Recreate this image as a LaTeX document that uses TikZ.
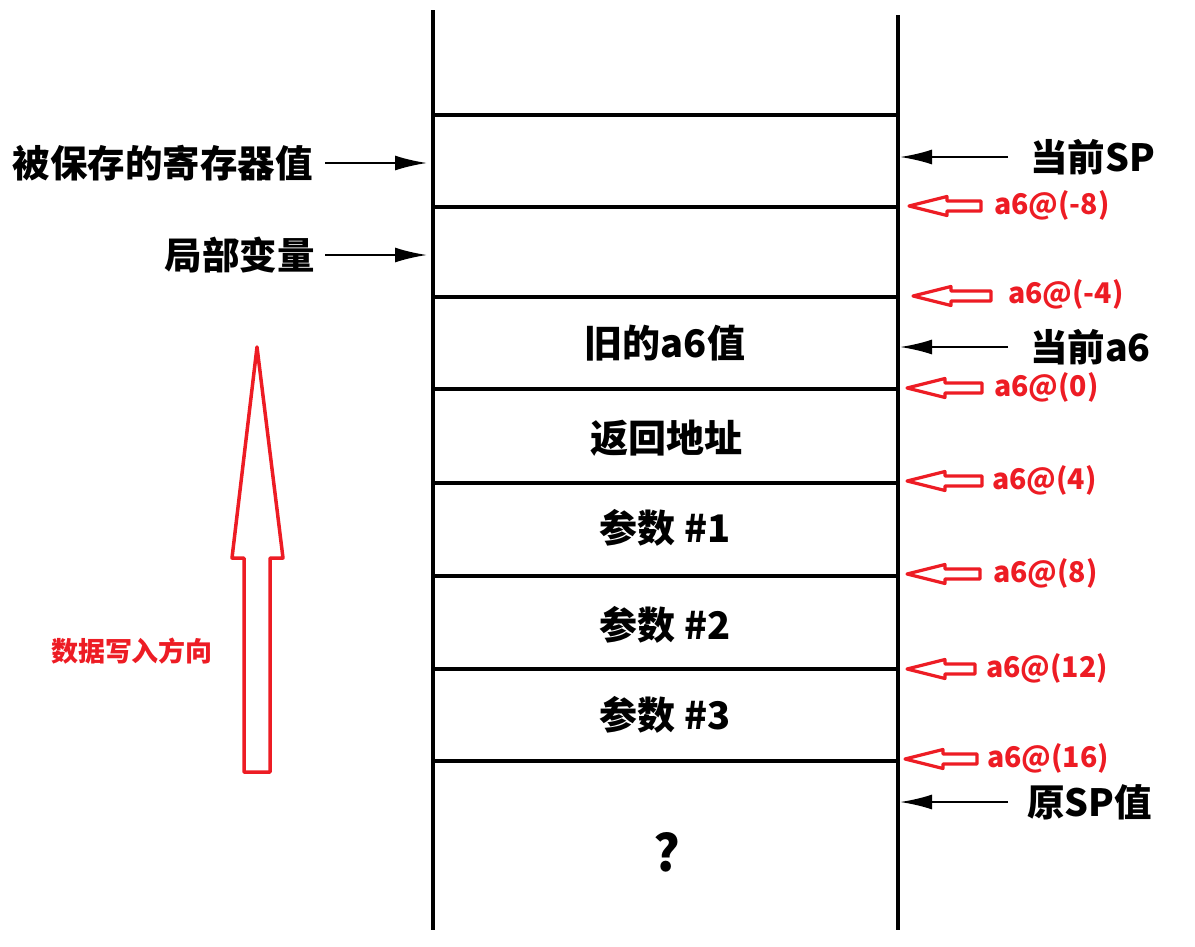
\documentclass[tikz,border=0pt]{standalone}
\usepackage{fontspec}
\setmainfont{Noto Sans CJK SC}
\usepackage{xcolor}
\definecolor{markred}{RGB}{237,28,36}
\usepackage{tikz}
\usetikzlibrary{arrows.meta,positioning}
\tikzset{
  wall/.style={line width=4pt,draw=black},
  slot/.style={line width=3.5pt,draw=black},
  cell_txt/.style={font=\fontsize{38}{42}\selectfont\bfseries,inner sep=0pt},
  side_lbl/.style={font=\fontsize{37.5}{42}\selectfont\bfseries,inner sep=0pt},
  off_lbl/.style={font=\fontsize{28.5}{32}\selectfont\bfseries,text=markred,anchor=west,inner sep=0pt},
  ptr/.style={-{Latex[length=32pt,width=15pt]},line width=2.2pt},
  hollow_ln/.style={draw=markred,line width=3.2pt,line join=round},
  pics/hollow/.style={code={
    \draw[hollow_ln] (0,0) -- (38,-9.5) -- (38,-5) -- (#1,-5) -- (#1,5)
      -- (38,5) -- (38,9.5) -- cycle;}},
}
\begin{document}
\begin{tikzpicture}[x=1pt,y=-1pt]
  \useasboundingbox (0,0) rectangle (1195,946);
  % stack frame
  \draw[wall] (433,10) -- (433,930);
  \draw[wall] (898,15) -- (898,930);
  \foreach \yy in {115,207,297,389,483,576,669,761}
    \draw[slot] (433,\yy) -- (898,\yy);
  % cell contents
  \node (old) [cell_txt] at (665,343) {旧的a6值};
  \node (ret) [cell_txt] at (666,438) {返回地址};
  \node (arg1)[cell_txt] at (665,528) {参数 \#1};
  \node (arg2)[cell_txt] at (665,625) {参数 \#2};
  \node (arg3)[cell_txt] at (665,715) {参数 \#3};
  \node (unk) [cell_txt,font=\fontsize{50}{54}\selectfont\bfseries] at (667,852) {?};
  % left labels
  \node (saved)[side_lbl,anchor=east] at (313,163) {被保存的寄存器值};
  \node (local)[side_lbl,anchor=east] at (315,255) {局部变量};
  \coordinate (saved_in) at (427,163);
  \coordinate (local_in) at (427,255);
  \draw[ptr,shorten <=12pt] (saved.east) -- (saved_in);
  \draw[ptr,shorten <=10pt] (local.east) -- (local_in);
  % right labels
  \node (sp)  [side_lbl,anchor=west] at (1030,157) {当前SP};
  \node (fp)  [side_lbl,anchor=west] at (1030,347) {当前a6};
  \node (osp) [side_lbl,anchor=west] at (1027,802) {原SP值};
  \coordinate (sp_in)  at (900,157);
  \coordinate (fp_in)  at (900,347);
  \coordinate (osp_in) at (900,802);
  \draw[ptr,shorten <=22pt] (sp.west) -- (sp_in);
  \draw[ptr,shorten <=22pt] (fp.west) -- (fp_in);
  \draw[ptr,shorten <=19pt] (osp.west) -- (osp_in);
  % a6 offsets
  \pic (h8m) at (909,206) {hollow=72};
  \pic (h4m) at (913,296) {hollow=78};
  \pic (h0)  at (907,388) {hollow=75};
  \pic (h4)  at (907,481) {hollow=75};
  \pic (h8)  at (907,574) {hollow=73};
  \pic (h12) at (907,669) {hollow=68};
  \pic (h16) at (905,759) {hollow=72};
  \node (o8m)[off_lbl] at (994,205) {a6@(-8)};
  \node (o4m)[off_lbl] at (1008,294) {a6@(-4)};
  \node (o0) [off_lbl] at (994,387) {a6@(0)};
  \node (o4) [off_lbl] at (992,480) {a6@(4)};
  \node (o8) [off_lbl] at (993,573) {a6@(8)};
  \node (o12)[off_lbl] at (986,668) {a6@(12)};
  \node (o16)[off_lbl] at (987,758) {a6@(16)};
  % write direction
  \draw[draw=markred,line width=3.5pt,line join=round]
    (257,347) -- (283,558) -- (270,558) -- (270,772) -- (244,772)
    -- (244,558) -- (232,558) -- cycle;
  \node (dirtxt)[font=\fontsize{27}{30}\selectfont\bfseries,text=markred,inner sep=0pt]
    at (132,651) {数据写入方向};
\end{tikzpicture}
\end{document}
